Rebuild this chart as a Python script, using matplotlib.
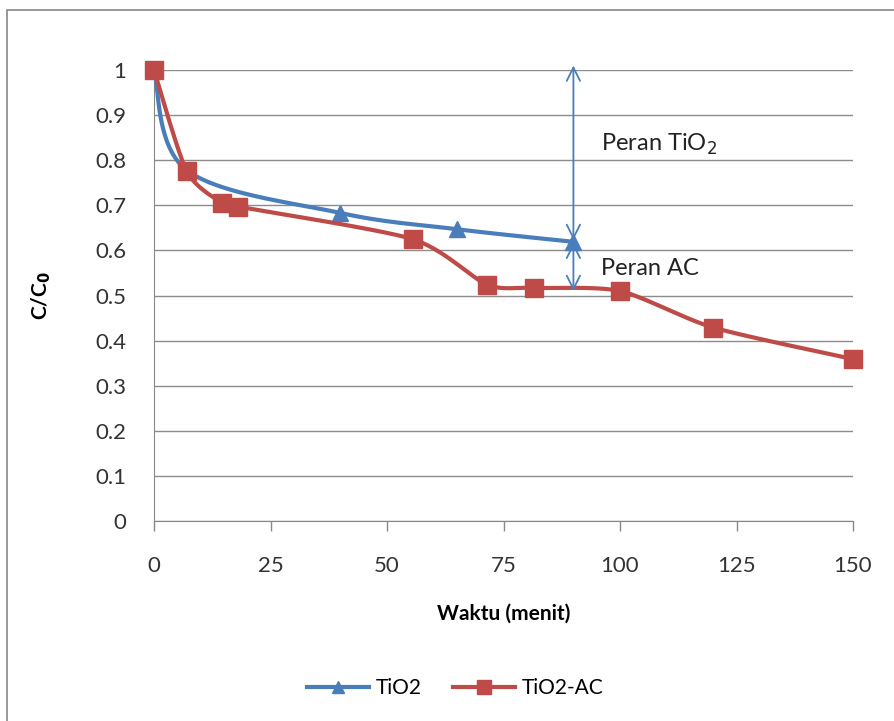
import numpy as np
import matplotlib.pyplot as plt
from matplotlib.patches import Rectangle

plt.rcParams['font.family'] = ['Lato', 'DejaVu Sans']

# data
waktu_tio2 = [0, 7, 40, 65, 90]
c_tio2 = [1.0, 0.778, 0.683, 0.647, 0.619]
marker_tio2 = [False, False, True, True, True]

waktu_ac = [0, 7, 14.5, 18, 55.5, 71.5, 81.5, 100, 120, 150]
c_ac = [1.0, 0.776, 0.706, 0.697, 0.625, 0.524, 0.517, 0.51, 0.429, 0.359]

x_ticks = [0, 25, 50, 75, 100, 125, 150]
y_ticks = [0, 0.1, 0.2, 0.3, 0.4, 0.5, 0.6, 0.7, 0.8, 0.9, 1]
y_labels = ['0', '0.1', '0.2', '0.3', '0.4', '0.5', '0.6', '0.7', '0.8', '0.9', '1']

blue = '#4a7ebb'
red = '#be4b48'


def smooth(x, y, n=30, k=6):
    # excel-style smoothed line (cardinal bezier through the points)
    x = np.asarray(x, float)
    y = np.asarray(y, float)
    px, py = [], []
    for i in range(len(x) - 1):
        i0 = max(i - 1, 0)
        i3 = min(i + 2, len(x) - 1)
        c1x = x[i] + (x[i + 1] - x[i0]) / k
        c1y = y[i] + (y[i + 1] - y[i0]) / k
        c2x = x[i + 1] - (x[i3] - x[i]) / k
        c2y = y[i + 1] - (y[i3] - y[i]) / k
        t = np.linspace(0, 1, n)
        px.extend((1 - t)**3 * x[i] + 3 * (1 - t)**2 * t * c1x + 3 * (1 - t) * t**2 * c2x + t**3 * x[i + 1])
        py.extend((1 - t)**3 * y[i] + 3 * (1 - t)**2 * t * c1y + 3 * (1 - t) * t**2 * c2y + t**3 * y[i + 1])
    return px, py


fig = plt.figure(figsize=(8.94, 7.21), dpi=100)
fig.patches.append(Rectangle((7 / 894, -0.1), 1.1, 1 - 10 / 721 + 0.1, transform=fig.transFigure,
                             fill=False, edgecolor='#888888', lw=1.2))
ax = fig.add_axes([154 / 894, 1 - 521 / 721, 699 / 894, 451 / 721])

sx, sy = smooth(waktu_tio2, c_tio2)
ax.plot(sx, sy, color=blue, lw=3, clip_on=False, zorder=3)
mx = [a for a, m in zip(waktu_tio2, marker_tio2) if m]
my = [b for b, m in zip(c_tio2, marker_tio2) if m]
ax.plot(mx, my, '^', color=blue, ms=11, mec=blue, zorder=4, clip_on=False)

sx, sy = smooth(waktu_ac, c_ac, k=8)
ax.plot(sx, sy, color=red, lw=3, clip_on=False, zorder=5)
ax.plot(waktu_ac, c_ac, 's', color=red, ms=13, mec=red, zorder=6, clip_on=False)

# legend handles
ax.plot([], [], color=blue, lw=3, marker='^', ms=9, label='TiO2')
ax.plot([], [], color=red, lw=3, marker='s', ms=10, label='TiO2-AC')

# arrows
arr = dict(arrowstyle='<->', color=blue, lw=1.3, mutation_scale=24, shrinkA=0, shrinkB=0)
ax.annotate('', xy=(90, 1.01), xytext=(90, 0.623), arrowprops=arr, zorder=7, annotation_clip=False)
ax.annotate('', xy=(90, 0.617), xytext=(90, 0.51), arrowprops=arr, zorder=7, annotation_clip=False)
ax.text(96, 0.835, 'Peran TiO$_2$', fontsize=17, va='center', color='#222222')
ax.text(96, 0.56, 'Peran AC', fontsize=17, va='center', color='#222222')

ax.set_xlim(0, 150)
ax.set_ylim(0, 1)
ax.set_xticks(x_ticks)
ax.set_yticks(y_ticks)
ax.set_yticklabels(y_labels)
ax.tick_params(axis='x', length=7, width=1, color='#888888', labelsize=16, pad=18, labelcolor='#333333')
ax.tick_params(axis='y', length=0, labelsize=16, pad=20, labelcolor='#333333')
ax.grid(axis='y', color='#8c8c8c', lw=1)
ax.set_axisbelow(True)
for s in ['top', 'right']:
    ax.spines[s].set_visible(False)
ax.spines['left'].set_color('#888888')
ax.spines['bottom'].set_color('#888888')

ax.set_xlabel('Waktu (menit)', fontsize=15, fontweight='bold', labelpad=20)
ax.set_ylabel('C/C$_\\mathbf{0}$', fontsize=15, fontweight='bold', labelpad=30)

ax.legend(loc='center', bbox_to_anchor=(455 / 894, 1 - 688 / 721), bbox_transform=fig.transFigure,
          ncol=2, frameon=False, fontsize=15, handlelength=3, columnspacing=1.5, handletextpad=0.3)

plt.savefig('out.png', dpi=100)
